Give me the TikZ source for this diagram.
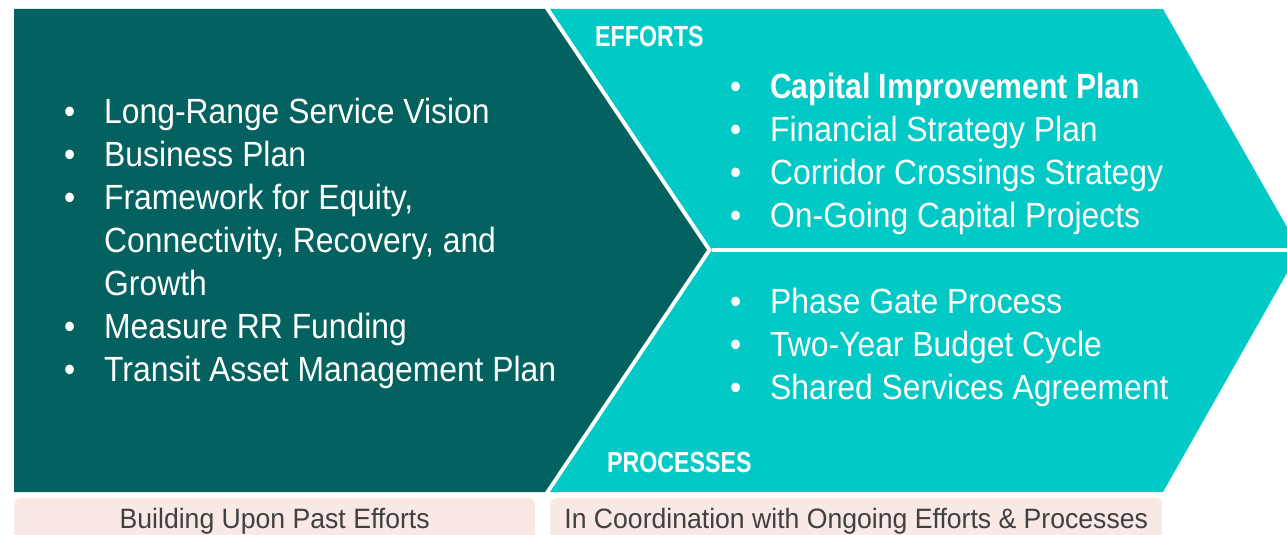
\documentclass[tikz,border=0pt]{standalone}
\usepackage{fontspec}
\setmainfont{Liberation Sans}[FakeStretch=0.91]
\newfontfamily\headfont{Liberation Sans}[FakeStretch=0.80]
\newfontfamily\keyfont{Liberation Sans}[FakeStretch=0.86]
\newfontfamily\tagfont{Liberation Sans}[FakeStretch=0.95]
\definecolor{darkteal}{HTML}{03625F}
\definecolor{aqua}{HTML}{00C9C6}
\definecolor{blush}{HTML}{F8E9E4}
\definecolor{labelgray}{HTML}{404040}
\newcommand{\bul}{\llap{\textbullet\hspace{29pt}}}

\begin{document}
\begin{tikzpicture}[x=1pt, y=-1pt,
    list/.style={anchor=base west, inner sep=0pt, align=left, text=white,
      font=\fontsize{35}{43}\selectfont},
    head/.style={anchor=base west, inner sep=0pt, text=white,
      font=\headfont\fontsize{29}{34}\selectfont\bfseries},
    tag/.style={anchor=north west, inner sep=0pt, fill=blush, rounded corners=6pt,
      minimum height=46pt, text=labelgray, font=\tagfont\fontsize{28}{32}\selectfont}]
  \useasboundingbox (0,0) rectangle (1287,535);
  \clip (0,0) rectangle (1287,535);

  % past efforts chevron
  \fill[darkteal] (14,9) -- (545,9) -- (707,250) -- (545,492) -- (14,492) -- cycle;
  % efforts and processes
  \fill[aqua] (550,9) -- (1163,9) -- (1300,250) -- (1163,492) -- (550,492) -- (712,250) -- cycle;
  \coordinate (notch) at (712,250);
  \coordinate (tip) at (1300,250);
  \draw[white, line width=4pt] (notch) -- (tip);

  % lists are placed by the baseline of their last line
  \node[list] (pastlist) at (104,381)
    {\bul Long-Range Service Vision\\
     \bul Business Plan\\
     \bul Framework for Equity,\\
     Connectivity, Recovery, and\\
     Growth\\
     \bul Measure RR Funding\\
     \bul Transit Asset Management Plan};

  \node[head] (efforts) at (595,47) {EFFORTS};
  \node[list] (efflist) at (770,227)
    {\bul{\keyfont\bfseries Capital Improvement Plan}\\
     \bul Financial Strategy Plan\\
     \bul Corridor Crossings Strategy\\
     \bul On-Going Capital Projects};

  \node[list] (proclist) at (770,399)
    {\bul Phase Gate Process\\
     \bul Two-Year Budget Cycle\\
     \bul Shared Services Agreement};
  \node[head] (processes) at (607,472) {PROCESSES};

  \node[tag, minimum width=521pt] (past) at (14,498) {Building Upon Past Efforts};
  \node[tag, minimum width=612pt] (ongoing) at (550,498)
    {In Coordination with Ongoing Efforts \& Processes};
\end{tikzpicture}
\end{document}
